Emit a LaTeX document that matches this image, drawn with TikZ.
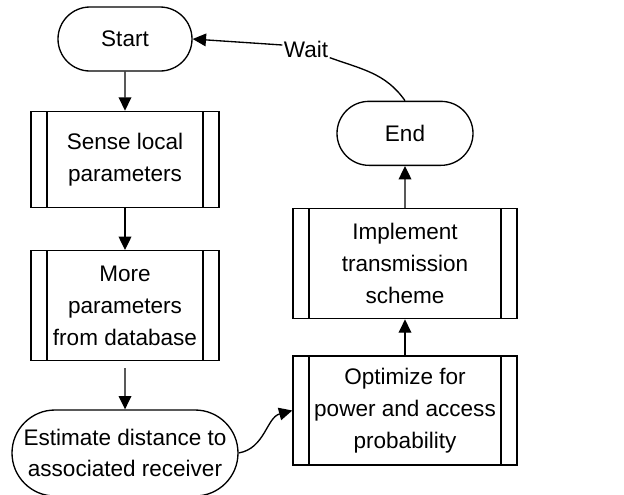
\documentclass[tikz,border=0pt]{standalone}
\usepackage{fontspec}
\setmainfont{Liberation Sans}
\usetikzlibrary{positioning,arrows.meta,shapes.misc}
\tikzset{
  termBox/.style={
    rounded rectangle,
    draw=black,
    line width=1pt,
    inner sep=0pt,
    align=center,
    font=\fontsize{16.9}{23.8}\selectfont
 },
  procBox/.style={
    rectangle,
    draw=black,
    line width=1pt,
    inner sep=0pt,
    minimum width=141pt,
    align=center,
    font=\fontsize{16.9}{23.8}\selectfont,
    path picture={
      \draw[line width=1pt] ([xshift=12pt]path picture bounding box.north west) -- ([xshift=12pt]path picture bounding box.south west);
      \draw[line width=1pt] ([xshift=-12pt]path picture bounding box.north east) -- ([xshift=-12pt]path picture bounding box.south east);
    }
 },
  arrowLine/.style={
    -{Triangle[length=10pt,width=9.5pt]},
    line width=1pt,
    color=black
 }
}
\begin{document}
\begin{tikzpicture}[x=0.75pt,y=0.75pt]
            \useasboundingbox (0,0) rectangle (624,-494);

            % left column
            \node[termBox, minimum width=100.5pt, minimum height=48pt] (start) at (125,-39) {Start};
            \node[procBox, minimum height=72pt, below=29.25pt of start] (sense) {Sense local\\parameters};
            \draw[arrowLine] (start) -- (sense);

            \node[procBox, minimum height=82.5pt, below=31.5pt of sense] (more) {More\\parameters\\from database};
            \draw[arrowLine] (sense) -- (more);

            \node[termBox, minimum width=169.5pt, minimum height=64.5pt, below=36pt of more] (est) {Estimate distance to\\associated receiver};
            \draw[arrowLine, shorten <=5pt] (more) -- (est);

            % right column
            \node[procBox, minimum width=168pt, minimum height=81.75pt] (opt) at (405,-410.5) {Optimize for\\power and access\\probability};
            \draw[arrowLine] (est.east) to[out=10, in=195] (opt.west);

            \node[procBox, minimum width=168pt, minimum height=82.5pt, above=27pt of opt] (impl) {Implement\\transmission\\scheme};
            \draw[arrowLine] (opt) -- (impl);

            \node[termBox, minimum width=102pt, minimum height=48pt, above=31.5pt of impl] (end) {End};
            \draw[arrowLine] (impl) -- (end);

            % back to start
            \node[inner sep=1pt, font=\fontsize{16.9}{23.8}\selectfont] (wait) at (306,-49) {Wait};
            \draw[line width=1pt] (end.north) to[out=125, in=-20] (wait);
            \draw[arrowLine] ([yshift=3pt]wait.west) -- (start.east);

        \end{tikzpicture}
\end{document}
